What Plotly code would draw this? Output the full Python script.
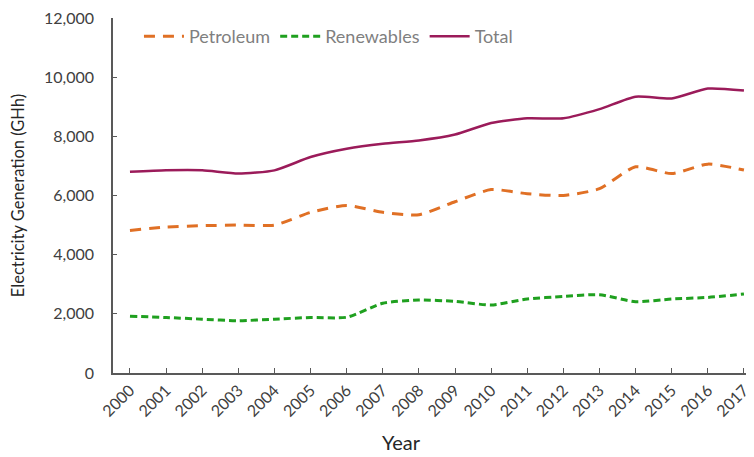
"""Electricity generation by source, 2000-2017."""

import plotly.graph_objects as go

YEARS = [str(y) for y in range(2000, 2018)]
PETROLEUM = [4820, 4935, 4980, 5000, 5000, 5430, 5660, 5430, 5350, 5790,
             6200, 6060, 6000, 6230, 6970, 6740, 7060, 6860]
RENEWABLES = [1920, 1875, 1820, 1765, 1820, 1875, 1885, 2355, 2470, 2420,
              2300, 2500, 2590, 2645, 2410, 2500, 2555, 2670]
TOTAL = [6800, 6850, 6850, 6740, 6850, 7300, 7580, 7750, 7860, 8060,
         8450, 8610, 8610, 8920, 9340, 9280, 9615, 9550]
Y_TICKS = [0, 2000, 4000, 6000, 8000, 10000, 12000]

FONT = "Lato, 'Open Sans', sans-serif"
AXIS_COLOR = "#595959"

fig = go.Figure()
fig.add_trace(go.Scatter(
    x=YEARS, y=PETROLEUM, name="Petroleum", mode="lines",
    line=dict(color="#E07025", width=3, dash="11px,8px", shape="spline", smoothing=0.6),
))
fig.add_trace(go.Scatter(
    x=YEARS, y=RENEWABLES, name="Renewables", mode="lines",
    line=dict(color="#1FA01F", width=3, dash="7px,4px", shape="spline", smoothing=0.6),
))
fig.add_trace(go.Scatter(
    x=YEARS, y=TOTAL, name="Total", mode="lines",
    line=dict(color="#9B1B5A", width=2.5, shape="spline", smoothing=0.6),
))

# the page body adds an 8px offset, so margins are trimmed by that much
fig.update_layout(
    width=754,
    height=457,
    margin=dict(l=105, r=0, t=7, b=92),
    paper_bgcolor="white",
    plot_bgcolor="white",
    font=dict(family=FONT, size=16, color="#404040"),
    legend=dict(
        orientation="h", x=0.04, y=1.0, yanchor="top", xanchor="left",
        font=dict(size=18, color="#7F7F7F"), bgcolor="rgba(0,0,0,0)",
        itemwidth=40, tracegroupgap=0,
    ),
    xaxis=dict(
        type="category",
        range=[-0.47, 17.5],
        tickangle=-45,
        ticks="inside", ticklen=5, tickcolor=AXIS_COLOR,
        showline=True, linecolor=AXIS_COLOR, linewidth=1.5,
        showgrid=False, zeroline=False,
        tickfont=dict(size=16),
        ticklabeloverflow="allow",
    ),
    yaxis=dict(
        range=[0, 12000],
        tickvals=Y_TICKS,
        tickformat=",d",
        ticks="inside", ticklen=4, tickcolor=AXIS_COLOR,
        ticklabelstandoff=14,
        ticklabeloverflow="allow",
        showline=True, linecolor=AXIS_COLOR, linewidth=1.5,
        showgrid=False, zeroline=False,
        tickfont=dict(size=16),
        title=dict(text="Electricity Generation (GHh)", font=dict(size=16.5, color="#262626"), standoff=16),
    ),
)

# "Year" sits left of the plot centre in the original, so it is placed by hand
fig.add_annotation(
    text="Year", xref="paper", yref="paper", x=0.445, y=-0.193,
    xanchor="center", yanchor="middle", showarrow=False,
    font=dict(size=20, color="#262626"),
)

fig.write_html("out.html")
